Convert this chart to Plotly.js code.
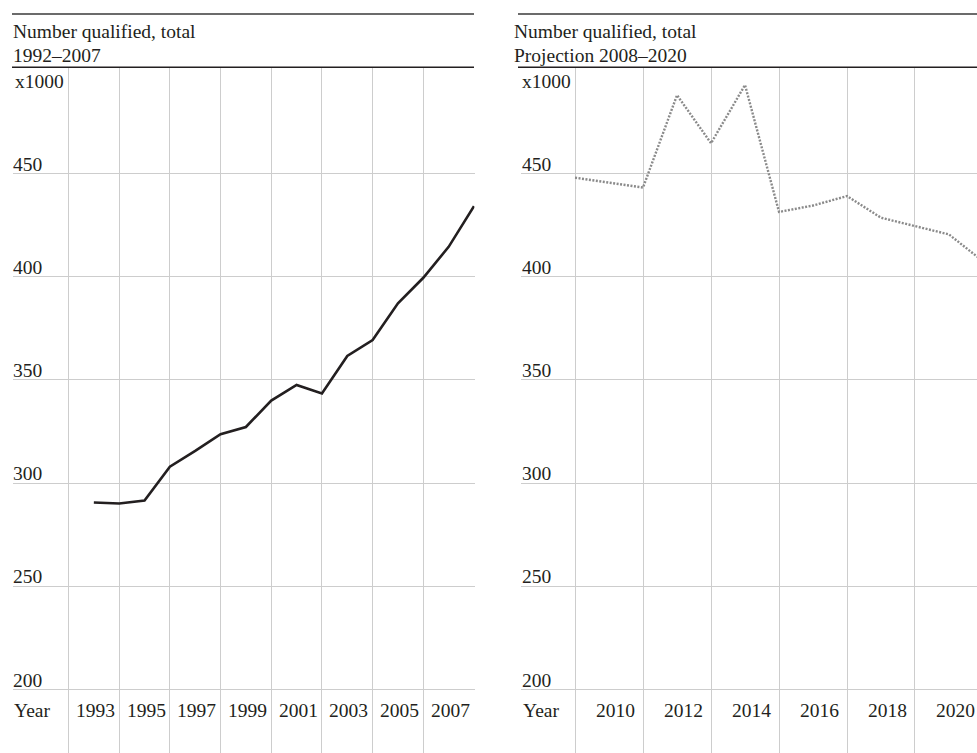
<!DOCTYPE html>
<html>
<head>
<meta charset="utf-8">
<script src="https://cdn.plot.ly/plotly-3.0.1.min.js"></script>
<style>
  html, body { margin: 0; padding: 0; background: #ffffff; }
  #chart { width: 977px; height: 753px; }
</style>
</head>
<body>
<div id="chart"></div>
<script>
// ---- Data ----
const histYears  = [1992, 1993, 1994, 1995, 1996, 1997, 1998, 1999, 2000, 2001, 2002, 2003, 2004, 2005, 2006, 2007];
const histValues = [290.6, 290.1, 291.6, 308.0, 315.6, 323.7, 327.2, 340.0, 347.6, 343.5, 361.6, 369.3, 387.1, 399.5, 414.5, 434.2];

const projYears  = [2008, 2009, 2010, 2011, 2012, 2013, 2014, 2015, 2016, 2017, 2018, 2019, 2020];
const projValues = [448.0, 445.6, 443.2, 488.0, 464.7, 492.9, 431.4, 434.5, 439.1, 428.6, 424.6, 420.5, 407.5];

const yTicks = [200, 250, 300, 350, 400, 450];
const histGridYears = [1991, 1993, 1995, 1997, 1999, 2001, 2003, 2005, 2007];
const histLabelYears = [1993, 1995, 1997, 1999, 2001, 2003, 2005, 2007];
const projGridYears = [2008, 2010, 2012, 2014, 2016, 2018, 2020];
const projLabelYears = [2010, 2012, 2014, 2016, 2018, 2020];

const leftTitle = ["Number qualified, total", "1992\u20132007"];
const rightTitle = ["Number qualified, total", "Projection 2008\u20132020"];
const unitLabel = "x1000";
const xAxisName = "Year";

// ---- Layout geometry ----
const W = 977, H = 753;
const FONT = "Liberation Serif, Times New Roman, serif";
const TXT = "#231f20";
const GRID = "#cdcdcd";
const FS = 19.5;

const px = v => v / W;          // pixel x -> paper
const py = v => 1 - v / H;      // pixel y -> paper

const yRange = [169.25, 501.48];

const traces = [
  {
    x: histYears, y: histValues, type: "scatter", mode: "lines",
    line: { color: "#231f20", width: 2.6 },
    xaxis: "x", yaxis: "y", hoverinfo: "skip"
  },
  {
    x: projYears, y: projValues, type: "scatter", mode: "lines",
    line: { color: "#8a8a8a", width: 2.4, dash: "2px,1.5px" },
    xaxis: "x2", yaxis: "y2", hoverinfo: "skip"
  }
];

const axisCommon = {
  showline: false, zeroline: false, ticks: "", showticklabels: false,
  showgrid: true, gridcolor: GRID, gridwidth: 1, fixedrange: true
};

const annotations = [];

function addText(text, xPix, yPix, xanchor) {
  annotations.push({
    text: text, xref: "paper", yref: "paper",
    x: px(xPix), y: py(yPix), xanchor: xanchor || "left", yanchor: "middle",
    showarrow: false, borderpad: 0,
    font: { family: FONT, size: FS, color: TXT }
  });
}

// Titles
addText(leftTitle[0], 12, 31.5);
addText(leftTitle[1], 12, 55.5);
addText(rightTitle[0], 513, 31.5);
addText(rightTitle[1], 513, 55.5);
// Unit labels
addText(unitLabel, 14, 81);
addText(unitLabel, 521, 81);
// Year labels
addText(xAxisName, 13, 710);
addText(xAxisName, 521.5, 710);

// Y tick labels
yTicks.forEach(v => {
  annotations.push({
    text: String(v), xref: "paper", yref: "y", x: px(12), y: v,
    xanchor: "left", yanchor: "bottom", yshift: -2, showarrow: false, borderpad: 0,
    font: { family: FONT, size: FS, color: TXT }
  });
  annotations.push({
    text: String(v), xref: "paper", yref: "y2", x: px(520.5), y: v,
    xanchor: "left", yanchor: "bottom", yshift: -2, showarrow: false, borderpad: 0,
    font: { family: FONT, size: FS, color: TXT }
  });
});

// X tick labels: centred in the two-year cell that ends at their gridline
histLabelYears.forEach(yr => {
  annotations.push({
    text: String(yr), xref: "x", yref: "paper", x: yr - 1, y: py(710),
    xanchor: "center", yanchor: "middle", xshift: 1.6, showarrow: false, borderpad: 0,
    font: { family: FONT, size: FS, color: TXT }
  });
});
projLabelYears.forEach(yr => {
  annotations.push({
    text: String(yr), xref: "x2", yref: "paper", x: yr - 1, y: py(710),
    xanchor: "center", yanchor: "middle", xshift: 6.5, showarrow: false, borderpad: 0,
    font: { family: FONT, size: FS, color: TXT }
  });
});

const shapes = [
  // top rules
  { type: "line", xref: "paper", yref: "paper", x0: px(12), x1: px(474), y0: py(14), y1: py(14), line: { color: "#3a3a3a", width: 1.4 } },
  { type: "line", xref: "paper", yref: "paper", x0: px(518), x1: 1, y0: py(14), y1: py(14), line: { color: "#3a3a3a", width: 1.4 } },
  // header bottom rules
  { type: "line", xref: "paper", yref: "paper", x0: px(12), x1: px(474), y0: py(67.3), y1: py(67.3), line: { color: "#231f20", width: 1.4 } },
  { type: "line", xref: "paper", yref: "paper", x0: px(518), x1: 1, y0: py(67.3), y1: py(67.3), line: { color: "#231f20", width: 1.4 } }
];

const layout = {
  width: W, height: H,
  margin: { l: 0, r: 0, t: 0, b: 0, pad: 0 },
  paper_bgcolor: "#ffffff", plot_bgcolor: "rgba(0,0,0,0)",
  showlegend: false,
  font: { family: FONT, size: FS, color: TXT },
  xaxis: Object.assign({}, axisCommon, {
    domain: [px(13), px(474.5)], range: [1988.81, 2007.02],
    tickmode: "array", tickvals: histGridYears, anchor: "y"
  }),
  yaxis: Object.assign({}, axisCommon, {
    domain: [0, py(67.3)], range: yRange,
    tickmode: "array", tickvals: yTicks, anchor: "x"
  }),
  xaxis2: Object.assign({}, axisCommon, {
    domain: [px(521), 1], range: [2006.41, 2019.824],
    tickmode: "array", tickvals: projGridYears, anchor: "y2"
  }),
  yaxis2: Object.assign({}, axisCommon, {
    domain: [0, py(67.3)], range: yRange,
    tickmode: "array", tickvals: yTicks, anchor: "x2"
  }),
  annotations: annotations,
  shapes: shapes
};

Plotly.newPlot("chart", traces, layout, { staticPlot: true, displayModeBar: false });
</script>
</body>
</html>
